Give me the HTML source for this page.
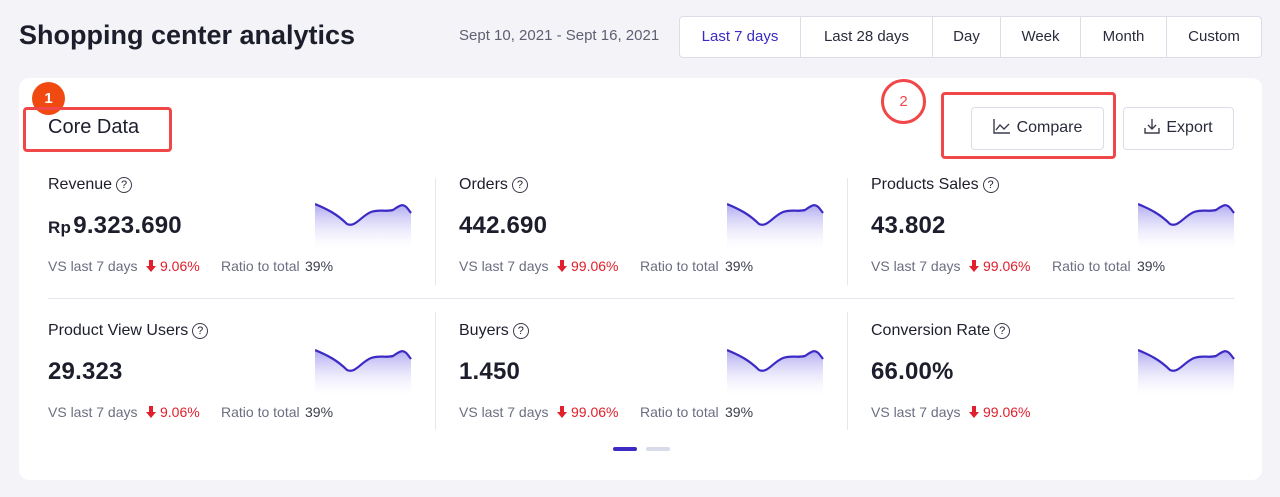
<!DOCTYPE html>
<html><head><style>
*{margin:0;padding:0;box-sizing:border-box}
body{width:1280px;height:497px;background:#f3f3f8;font-family:"Liberation Sans",sans-serif;position:relative;overflow:hidden;color:#1d1e2c}
.a{position:absolute;white-space:nowrap}
.title{left:19px;top:20px;font-size:27px;font-weight:bold;color:#1d1e2c}
.date{left:459px;top:27px;font-size:15px;color:#5e6072}
.tabs{left:679px;top:16px;width:583px;height:42px;border:1px solid #dcdde8;border-radius:4px;background:#fff;display:flex}
.tabs div{height:40px;line-height:40px;text-align:center;font-size:15px;color:#2a2c3c;border-right:1px solid #dcdde8}
.tabs div:last-child{border-right:none}
.card{left:19px;top:78px;width:1243px;height:402px;background:#fff;border-radius:10px}
.red{border:3px solid #f04848;border-radius:4px}
.btn{border:1px solid #dcdde8;border-radius:4px;background:#fff;font-size:16px;color:#2a2c3c;text-align:center;line-height:40px}
.lab{font-size:16px;color:#1d1e2c}
.q{display:inline-block;width:16px;height:16px;border:1.3px solid #3a3c4c;border-radius:50%;font-size:11px;text-align:center;line-height:14px;vertical-align:1px;margin-left:4px}
.val{font-size:24px;font-weight:bold;color:#1d1e2c;letter-spacing:0.2px}
.sm{font-size:14px;color:#6b6e80;line-height:18px;height:18px}
.dn{color:#e0202c}
.dn svg{vertical-align:-1px;margin-right:4px}
.k{color:#3a3c4c}
</style></head><body>
<div class="a title">Shopping center analytics</div>
<div class="a date">Sept 10, 2021 - Sept 16, 2021</div>
<div class="a tabs">
<div style="width:121px;color:#3b2bc4">Last 7 days</div>
<div style="width:132px">Last 28 days</div>
<div style="width:68px">Day</div>
<div style="width:80px">Week</div>
<div style="width:86px">Month</div>
<div style="flex:1">Custom</div>
</div>
<div class="a card"></div>
<div class="a" style="left:32px;top:82px;width:33px;height:33px;border-radius:50%;background:#f04a10;color:#fff;font-size:15px;font-weight:bold;text-align:center;line-height:33px">1</div>
<div class="a red" style="left:23px;top:107px;width:149px;height:45px"></div>
<div class="a" style="left:48px;top:116px;font-size:20px;color:#1d1e2c">Core Data</div>
<div class="a" style="left:881px;top:79px;width:45px;height:45px;border:3px solid #f04848;border-radius:50%;color:#f04848;font-size:15px;text-align:center;line-height:39px">2</div>
<div class="a red" style="left:941px;top:92px;width:175px;height:67px"></div>
<div class="a btn" style="left:971px;top:107px;width:133px;height:43px"><svg width="18" height="16" style="vertical-align:-2px;margin-right:6px"><path d="M1 1V15H17M3 12L7 7L11 11L16 6" fill="none" stroke="#3a3c4c" stroke-width="1.4"/></svg>Compare</div>
<div class="a btn" style="left:1123px;top:107px;width:111px;height:43px"><svg width="16" height="16" style="vertical-align:-2px;margin-right:6px"><path d="M8 1V11M4 7L8 11L12 7M1 10V15H15V10" fill="none" stroke="#3a3c4c" stroke-width="1.4"/></svg>Export</div>
<div class="a" style="left:48px;top:298px;width:1186px;height:1px;background:#e6e7ee"></div>
<div class="a" style="left:435px;top:178px;width:1px;height:107px;background:#e6e7ee"></div>
<div class="a" style="left:847px;top:178px;width:1px;height:107px;background:#e6e7ee"></div>
<div class="a" style="left:435px;top:312px;width:1px;height:118px;background:#e6e7ee"></div>
<div class="a" style="left:847px;top:312px;width:1px;height:118px;background:#e6e7ee"></div>
<svg width="0" height="0" style="position:absolute"><defs><linearGradient id="g" x1="0" y1="0" x2="0" y2="1"><stop offset="0" stop-color="#b0a9f0"/><stop offset="1" stop-color="#ffffff" stop-opacity="0.2"/></linearGradient><symbol id="ar" viewBox="0 0 10 12"><path d="M3 0H7V6H10L5 12L0 6H3Z" fill="#e0202c"/></symbol></defs></svg>

<!-- row 1 -->
<div class="a lab" style="left:48px;top:176px">Revenue<span class="q">?</span></div>
<div class="a val" style="left:48px;top:212px"><span style="font-size:17px">Rp</span>&#8202;9.323.690</div>
<div class="a sm" style="left:48px;top:257px">VS last 7 days</div>
<div class="a sm dn" style="left:146px;top:257px"><svg width="10" height="12"><use href="#ar"/></svg>9.06%</div>
<div class="a sm" style="left:221px;top:257px">Ratio to total</div>
<div class="a sm k" style="left:305px;top:257px">39%</div>

<div class="a lab" style="left:459px;top:176px">Orders<span class="q">?</span></div>
<div class="a val" style="left:459px;top:212px">442.690</div>
<div class="a sm" style="left:459px;top:257px">VS last 7 days</div>
<div class="a sm dn" style="left:557px;top:257px"><svg width="10" height="12"><use href="#ar"/></svg>99.06%</div>
<div class="a sm" style="left:640px;top:257px">Ratio to total</div>
<div class="a sm k" style="left:725px;top:257px">39%</div>

<div class="a lab" style="left:871px;top:176px">Products Sales<span class="q">?</span></div>
<div class="a val" style="left:871px;top:212px">43.802</div>
<div class="a sm" style="left:871px;top:257px">VS last 7 days</div>
<div class="a sm dn" style="left:969px;top:257px"><svg width="10" height="12"><use href="#ar"/></svg>99.06%</div>
<div class="a sm" style="left:1052px;top:257px">Ratio to total</div>
<div class="a sm k" style="left:1137px;top:257px">39%</div>
<!-- row 2 -->
<div class="a lab" style="left:48px;top:322px">Product View Users<span class="q">?</span></div>
<div class="a val" style="left:48px;top:358px">29.323</div>
<div class="a sm" style="left:48px;top:403px">VS last 7 days</div>
<div class="a sm dn" style="left:146px;top:403px"><svg width="10" height="12"><use href="#ar"/></svg>9.06%</div>
<div class="a sm" style="left:221px;top:403px">Ratio to total</div>
<div class="a sm k" style="left:305px;top:403px">39%</div>

<div class="a lab" style="left:459px;top:322px">Buyers<span class="q">?</span></div>
<div class="a val" style="left:459px;top:358px">1.450</div>
<div class="a sm" style="left:459px;top:403px">VS last 7 days</div>
<div class="a sm dn" style="left:557px;top:403px"><svg width="10" height="12"><use href="#ar"/></svg>99.06%</div>
<div class="a sm" style="left:640px;top:403px">Ratio to total</div>
<div class="a sm k" style="left:725px;top:403px">39%</div>

<div class="a lab" style="left:871px;top:322px">Conversion Rate<span class="q">?</span></div>
<div class="a val" style="left:871px;top:358px">66.00%</div>
<div class="a sm" style="left:871px;top:403px">VS last 7 days</div>
<div class="a sm dn" style="left:969px;top:403px"><svg width="10" height="12"><use href="#ar"/></svg>99.06%</div>

<!-- sparklines -->
<svg class="a" style="left:315px;top:200px" width="97" height="50"><path d="M0 4C12 9 22 14 32 24C40 28 46 16 56 12C64 9 70 12 78 10C84 6 88 2 93 9L96 13V50H0Z" fill="url(#g)"/><path d="M0 4C12 9 22 14 32 24C40 28 46 16 56 12C64 9 70 12 78 10C84 6 88 2 93 9L96 13" fill="none" stroke="#3b2bc4" stroke-width="2.2"/></svg>
<svg class="a" style="left:727px;top:200px" width="97" height="50"><path d="M0 4C12 9 22 14 32 24C40 28 46 16 56 12C64 9 70 12 78 10C84 6 88 2 93 9L96 13V50H0Z" fill="url(#g)"/><path d="M0 4C12 9 22 14 32 24C40 28 46 16 56 12C64 9 70 12 78 10C84 6 88 2 93 9L96 13" fill="none" stroke="#3b2bc4" stroke-width="2.2"/></svg>
<svg class="a" style="left:1138px;top:200px" width="97" height="50"><path d="M0 4C12 9 22 14 32 24C40 28 46 16 56 12C64 9 70 12 78 10C84 6 88 2 93 9L96 13V50H0Z" fill="url(#g)"/><path d="M0 4C12 9 22 14 32 24C40 28 46 16 56 12C64 9 70 12 78 10C84 6 88 2 93 9L96 13" fill="none" stroke="#3b2bc4" stroke-width="2.2"/></svg>
<svg class="a" style="left:315px;top:346px" width="97" height="50"><path d="M0 4C12 9 22 14 32 24C40 28 46 16 56 12C64 9 70 12 78 10C84 6 88 2 93 9L96 13V50H0Z" fill="url(#g)"/><path d="M0 4C12 9 22 14 32 24C40 28 46 16 56 12C64 9 70 12 78 10C84 6 88 2 93 9L96 13" fill="none" stroke="#3b2bc4" stroke-width="2.2"/></svg>
<svg class="a" style="left:727px;top:346px" width="97" height="50"><path d="M0 4C12 9 22 14 32 24C40 28 46 16 56 12C64 9 70 12 78 10C84 6 88 2 93 9L96 13V50H0Z" fill="url(#g)"/><path d="M0 4C12 9 22 14 32 24C40 28 46 16 56 12C64 9 70 12 78 10C84 6 88 2 93 9L96 13" fill="none" stroke="#3b2bc4" stroke-width="2.2"/></svg>
<svg class="a" style="left:1138px;top:346px" width="97" height="50"><path d="M0 4C12 9 22 14 32 24C40 28 46 16 56 12C64 9 70 12 78 10C84 6 88 2 93 9L96 13V50H0Z" fill="url(#g)"/><path d="M0 4C12 9 22 14 32 24C40 28 46 16 56 12C64 9 70 12 78 10C84 6 88 2 93 9L96 13" fill="none" stroke="#3b2bc4" stroke-width="2.2"/></svg>

<div class="a" style="left:613px;top:447px;width:24px;height:4px;border-radius:2px;background:#3b2bc4"></div>
<div class="a" style="left:646px;top:447px;width:24px;height:4px;border-radius:2px;background:#d8dbe8"></div>
</body></html>
